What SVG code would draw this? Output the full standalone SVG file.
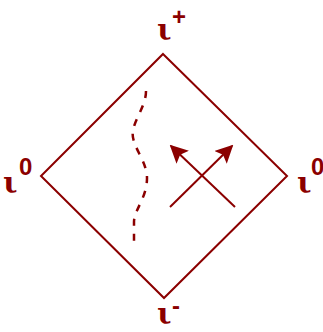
<svg xmlns="http://www.w3.org/2000/svg" width="323" height="332" viewBox="0 0 323 332">
<defs>
<style>
.ln{fill:none;stroke:#8b0000;stroke-width:2}
.ds{fill:none;stroke:#8b0000;stroke-width:2.5;stroke-dasharray:7 8}
.t{fill:#8b0000;font-family:"DejaVu Serif","Liberation Serif",serif;font-weight:bold;font-size:30px}
.s{fill:#8b0000;font-family:"Liberation Sans",Arial,sans-serif;font-weight:bold;font-size:24px}
</style>
<marker id="ah" viewBox="0 0 10 10" refX="9" refY="5" markerWidth="9" markerHeight="9" orient="auto" markerUnits="strokeWidth">
<path d="M0,0 L10,5 L0,10 L2,5 z" fill="#8b0000"/>
</marker>
</defs>
<rect width="323" height="332" fill="#fff"/>
<g id="diamond"><polygon class="ln" points="163,54 287,176 164,298 41,176"/></g>
<g id="labels">
<g id="top"><text class="t" x="157" y="40">ι</text><text class="s" x="172" y="25">+</text></g>
<g id="left"><text class="t" x="3" y="193">ι</text><text class="s" x="19" y="175">0</text></g>
<g id="right"><text class="t" x="297" y="193">ι</text><text class="s" x="311" y="175" textLength="12">0</text></g>
<g id="bottom"><text class="t" x="157" y="324">ι</text><text class="s" x="172" y="314">-</text></g>
</g>
<g id="connectors">
<path class="ds" d="M146,91 C146,105 136,117 133,130 C130,145 147,160 147,178 C147,198 134,210 134,222 L134,244"/>
<line class="ln" x1="170" y1="207" x2="232" y2="146" marker-end="url(#ah)"/>
<line class="ln" x1="235" y1="207" x2="171" y2="146" marker-end="url(#ah)"/>
</g>
</svg>
